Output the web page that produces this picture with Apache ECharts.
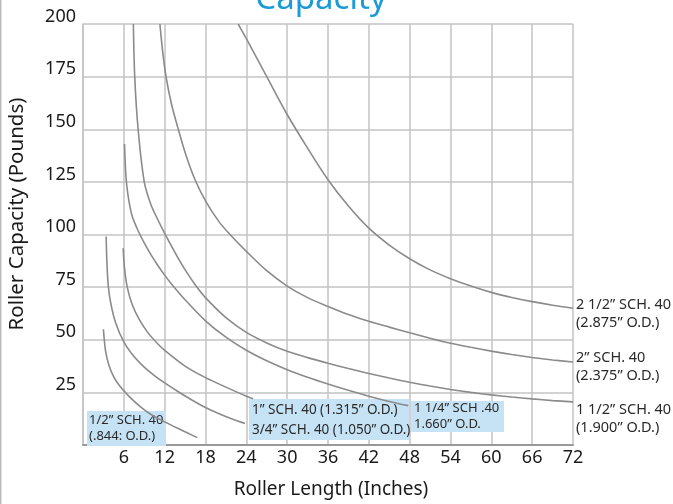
<!DOCTYPE html>
<html>
<head>
<meta charset="utf-8">
<script src="https://cdn.jsdelivr.net/npm/echarts@6/dist/echarts.min.js"></script>
<style>
html,body{margin:0;padding:0;background:#fff;}
#chart{width:673px;height:504px;}
</style>
</head>
<body>
<div id="chart"></div>
<script>
// Roller length (inches) vs capacity (pounds)
var pipe2_5 = [[22.8,200],[24,193],[27,175],[30,157],[33,141],[36,126],[39,113.5],[42,103],[45,95],[48,88.5],[51,83.2],[54,79],[57,75.5],[60,72.5],[63,70.1],[66,68.1],[69,66.4],[72,65]];
var pipe2   = [[11.3,200],[11.7,187],[12.2,175],[13,162],[14,150],[15,139],[16.4,126.5],[18,116],[20,106],[21.6,100],[24,92],[27,82.8],[30,75.5],[33,70],[36,65.8],[39,62],[42,58.8],[45,56],[48,53.3],[51,50.7],[54,48.3],[57,46.4],[60,44.6],[63,43],[66,41.6],[69,40.4],[72,39.4]];
var pipe1_5 = [[7.4,200],[7.6,175],[8.1,150],[9,125],[10,114],[11,107],[12,100.5],[13,94.5],[14,88.7],[15,83.3],[16.4,76.5],[18,70],[21,60.5],[24,53.5],[27,48.5],[30,44.5],[33,41.5],[36,38.8],[39,36.3],[42,34],[45,31.8],[48,29.8],[51,28],[54,26.4],[57,25],[60,23.8],[63,22.8],[66,21.9],[69,21.1],[72,20.5]];
var pipe1_25= [[6.1,143],[6.3,128],[6.6,119],[7.2,109],[8,102.5],[9,96],[10,90.3],[11,85.3],[12,80.7],[13,76.5],[15,69],[18,59],[21,51.2],[24,45],[27,40],[30,35.8],[33,32.2],[36,29],[39,26],[42,23.2],[45,20.7],[47.8,18.7]];
var pipe1   = [[5.9,93.5],[6.1,84],[6.5,75],[7.2,67],[8.2,60],[9.5,53.5],[11,48],[12,45],[15,37.5],[18,32],[21,27.5],[24,23.2],[25,22]];
var pipe3_4 = [[3.4,99],[3.5,88],[3.7,76],[4.1,67],[4.8,58],[6,49],[7.5,42],[9,37],[10.5,33],[12,29.5],[14,25.3],[16,21.4],[18,17.8],[20,14.8],[22,12.2],[23.8,10.2]];
var pipe1_2 = [[3,55],[3.3,45],[3.8,38],[4.5,32.5],[5.4,28],[6.8,23],[8.5,18],[10,14.5],[12,11],[14,7.8],[16.8,3.5]];

var xTicks = [6,12,18,24,30,36,42,48,54,60,66,72];
var yTicks = [25,50,75,100,125,150,175,200];

var endLabels = {
  p25: '2 1/2\u201d SCH. 40\n(2.875\u201d O.D.)',
  p2:  '2\u201d SCH. 40\n(2.375\u201d O.D.)',
  p15: '1 1/2\u201d SCH. 40\n(1.900\u201d O.D.)'
};

var chart = echarts.init(document.getElementById('chart'));
var FONT = 'Noto Sans';
var lineColor = '#8b8b8d';

function mk(name, data, endTxt, dy) {
  var s = {
    name: name, type: 'line', data: data, smooth: 0.3,
    showSymbol: false, symbol: 'none',
    lineStyle: {color: lineColor, width: 1.6}, z: 5, silent: true
  };
  if (endTxt) {
    s.endLabel = {
      show: true, formatter: endTxt, distance: 3, offset: [0, dy],
      color: '#2a2a2a', fontFamily: FONT, fontSize: 14.5, lineHeight: 18, align: 'left'
    };
  }
  return s;
}

chart.setOption({
  animation: false,
  backgroundColor: '#fff',
  grid: {left: 83, right: 100, top: 24, bottom: 57, containLabel: false},
  xAxis: {
    type: 'value', min: 0, max: 72, interval: 6,
    axisLine: {show: true, lineStyle: {color: '#999', width: 2}},
    axisTick: {show: false},
    splitLine: {show: true, lineStyle: {color: '#c3c3c5', width: 1.5}},
    axisLabel: {
      color: '#1a1a1a', fontFamily: FONT, fontSize: 18, margin: 4,
      formatter: function (v) { return xTicks.indexOf(v) >= 0 ? String(v) : ''; }
    },
    name: 'Roller Length (Inches)', nameLocation: 'middle', nameGap: 35,
    nameTextStyle: {color: '#1a1a1a', fontFamily: FONT, fontSize: 19, padding: [0, 0, 0, 6]}
  },
  yAxis: {
    type: 'value', min: 0, max: 200, interval: 25,
    axisLine: {show: true, lineStyle: {color: '#c3c3c5', width: 1.5}},
    axisTick: {show: false},
    splitLine: {show: true, lineStyle: {color: '#c3c3c5', width: 1.5}},
    axisLabel: {
      color: '#1a1a1a', fontFamily: FONT, fontSize: 18, margin: 7, verticalAlign: 'bottom', lineHeight: 15,
      formatter: function (v) { return yTicks.indexOf(v) >= 0 ? String(v) : ''; }
    }
  },
  graphic: [
    {type: 'line', shape: {x1: 0.75, y1: 0, x2: 0.75, y2: 504}, style: {stroke: '#bbb', lineWidth: 1.5}},
    {type: 'text', x: 321, y: 16, style: {text: 'Capacity', fill: '#1b9ad6', font: '33px "Noto Sans"', textAlign: 'center', textVerticalAlign: 'bottom'}},
    {type: 'text', x: 17, y: 214, rotation: Math.PI / 2, style: {text: 'Roller Capacity (Pounds)', fill: '#1a1a1a', font: '20.5px "Noto Sans"', textAlign: 'center', textVerticalAlign: 'middle'}},
    {type: 'rect', shape: {x: 87, y: 411, width: 79, height: 35}, style: {fill: '#c6e3f5'}, z: 3},
    {type: 'text', x: 89, y: 428.5, style: {text: '1/2\u201d SCH. 40\n(.844: O.D.)', fill: '#2a2a2a', font: '13px "Noto Sans"', lineHeight: 16.5, textVerticalAlign: 'middle'}, z: 4},
    {type: 'rect', shape: {x: 249, y: 399, width: 160, height: 41}, style: {fill: '#c6e3f5'}, z: 3},
    {type: 'text', x: 252, y: 420, style: {text: '1\u201d SCH. 40 (1.315\u201d O.D.)\n3/4\u201d SCH. 40 (1.050\u201d O.D.)', fill: '#2a2a2a', font: '13.5px "Noto Sans"', lineHeight: 19.5, textVerticalAlign: 'middle'}, z: 4},
    {type: 'rect', shape: {x: 411, y: 401, width: 93, height: 31}, style: {fill: '#c6e3f5'}, z: 3},
    {type: 'text', x: 414, y: 416.5, style: {text: '1 1/4\u201d SCH .40\n1.660\u201d O.D.', fill: '#2a2a2a', font: '13px "Noto Sans"', lineHeight: 16, textVerticalAlign: 'middle'}, z: 4}
  ],
  series: [
    mk('2 1/2', pipe2_5, endLabels.p25, 6),
    mk('2', pipe2, endLabels.p2, 5),
    mk('1 1/2', pipe1_5, endLabels.p15, 17),
    mk('1 1/4', pipe1_25),
    mk('1', pipe1),
    mk('3/4', pipe3_4),
    mk('1/2', pipe1_2)
  ]
});
</script>
</body>
</html>
